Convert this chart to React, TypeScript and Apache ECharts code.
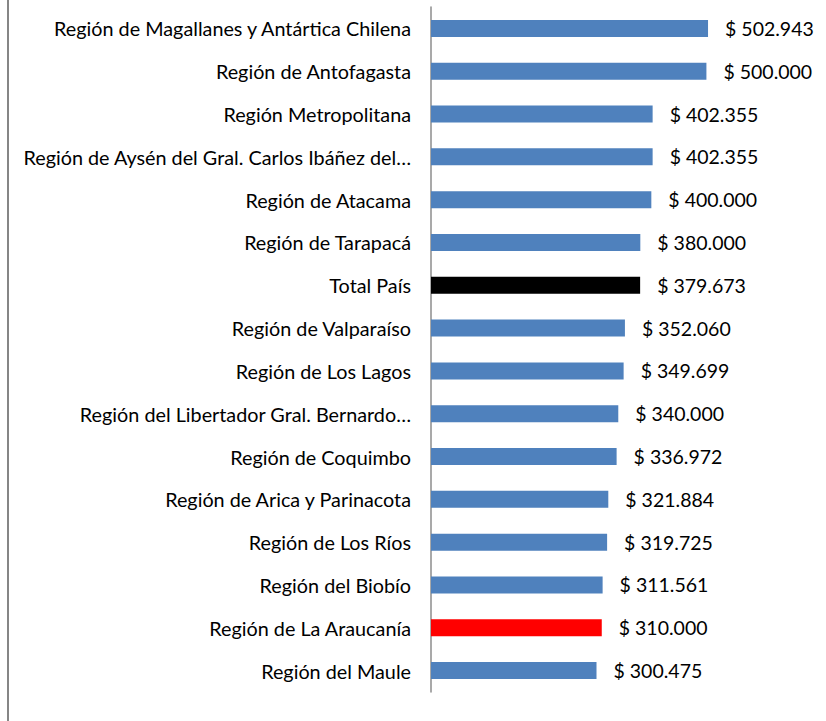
import React, { useEffect, useRef } from "react";
import * as echarts from "echarts";

const categories = [
  "Región de Magallanes y Antártica Chilena",
  "Región de Antofagasta",
  "Región Metropolitana",
  "Región de Aysén del Gral. Carlos Ibáñez del…",
  "Región de Atacama",
  "Región de Tarapacá",
  "Total País",
  "Región de Valparaíso",
  "Región de Los Lagos",
  "Región del Libertador Gral. Bernardo…",
  "Región de Coquimbo",
  "Región de Arica y Parinacota",
  "Región de Los Ríos",
  "Región del Biobío",
  "Región de La Araucanía",
  "Región del Maule",
];

const values = [
  502943, 500000, 402355, 402355, 400000, 380000, 379673, 352060, 349699,
  340000, 336972, 321884, 319725, 311561, 310000, 300475,
];

const barColors = [
  "#4F81BD", "#4F81BD", "#4F81BD", "#4F81BD", "#4F81BD", "#4F81BD",
  "#000000", "#4F81BD", "#4F81BD", "#4F81BD", "#4F81BD", "#4F81BD",
  "#4F81BD", "#4F81BD", "#FF0000", "#4F81BD",
];

const FONT = "Lato";

function fmt(v: number): string {
  return "$ " + String(Math.round(v)).replace(/\B(?=(\d{3})+(?!\d))/g, ".");
}

export default function App() {
  const ref = useRef<HTMLDivElement>(null);
  useEffect(() => {
    if (!ref.current) return;
    const chart = echarts.init(ref.current, null, { renderer: "svg" });
    chart.setOption({
      animation: false,
      backgroundColor: "#ffffff",
      grid: { left: 431, top: 7, bottom: 29, right: 64.5, containLabel: false },
      xAxis: {
        type: "value",
        min: 0,
        max: 600000,
        axisLine: { show: false },
        axisTick: { show: false },
        axisLabel: { show: false },
        splitLine: { show: false },
      },
      yAxis: {
        type: "category",
        inverse: true,
        data: categories,
        axisLine: { show: true, lineStyle: { color: "#8c8c8c", width: 1.5 } },
        axisTick: { show: false },
        axisLabel: {
          margin: 20,
          color: "#000000",
          fontFamily: FONT,
          fontSize: 19.8,
        },
      },
      graphic: [
        {
          type: "line",
          shape: { x1: 8, y1: 0, x2: 8, y2: 721 },
          style: { stroke: "#868686", lineWidth: 2 },
        },
      ],
      series: [
        {
          type: "bar",
          data: values.map((v, i) => ({ value: v, itemStyle: { color: barColors[i] } })),
          barWidth: 17,
          label: {
            show: true,
            position: "right",
            distance: 17,
            color: "#000000",
            fontFamily: FONT,
            fontSize: 19.5,
            formatter: (p: any) => fmt(p.value),
          },
        },
      ],
    });
    return () => chart.dispose();
  }, []);
  return (
    <div
      ref={ref}
      style={{ position: "fixed", left: 0, top: 0, width: 826, height: 721 }}
    />
  );
}
